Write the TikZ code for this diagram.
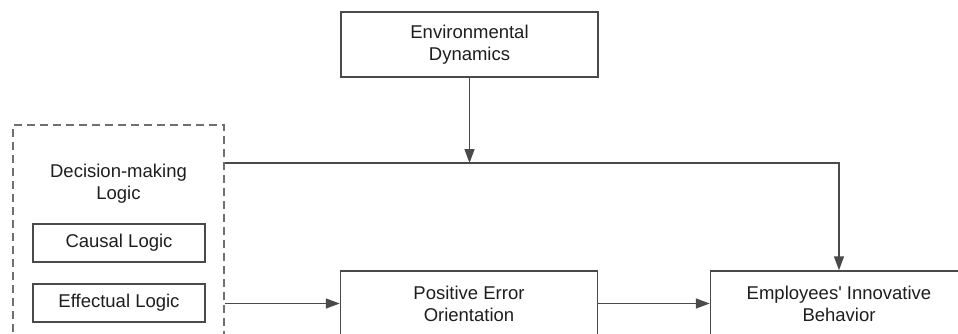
\documentclass[tikz,border=0pt]{standalone}
\usepackage{fontspec}
\setmainfont{Liberation Sans}
\usetikzlibrary{arrows.meta}
\definecolor{txt}{HTML}{1E1E1E}
\definecolor{ln}{HTML}{4A4A4A}
\definecolor{dl}{HTML}{707070}
\tikzset{
  box/.style={draw=ln, line width=1.5pt, fill=white, text=txt, align=center,
    inner sep=0pt, font=\fontsize{18.5}{22}\selectfont},
  smallbox/.style={box, minimum width=172pt, minimum height=38pt},
  bigbox/.style={box, minimum width=257pt, minimum height=65pt},
  dashbox/.style={draw=dl, line width=1.4pt, dash pattern=on 8pt off 5pt, inner sep=0pt},
  lbl/.style={text=txt, align=center, font=\fontsize{18.5}{22}\selectfont},
  conn/.style={draw=ln, line width=1.5pt},
  arr/.style={conn, -{Triangle[length=14pt,width=10pt]}}
}
\begin{document}
\begin{tikzpicture}[x=1pt,y=-1pt]
\useasboundingbox (0,0) rectangle (958,333);
\clip (0,0) rectangle (958,333);
\node[dashbox, minimum width=211pt, minimum height=250pt] (dml) at (118.5,250) {};
\node[lbl] (dmlt) at (118.5,184) {Decision-making\\Logic};
\node[smallbox] (causal) at (119,243) {Causal Logic};
\node[smallbox] (effect) at (119,303) {Effectual Logic};
\node[bigbox] (env) at (469.5,44.5) {Environmental\\Dynamics};
\node[bigbox] (pos) at (469,303.5) {Positive Error\\Orientation};
\node[bigbox] (emp) at (839,303.5) {Employees\textquotesingle{} Innovative\\Behavior};
\coordinate (h) at (0,163);
\draw[arr] (dml.east |- h) -| (emp.north);
\draw[arr] (env.south) -- (env.south |- h);
\draw[arr] (dml.east |- pos.west) -- (pos.west);
\draw[arr] (pos.east) -- (emp.west);
\end{tikzpicture}
\end{document}
